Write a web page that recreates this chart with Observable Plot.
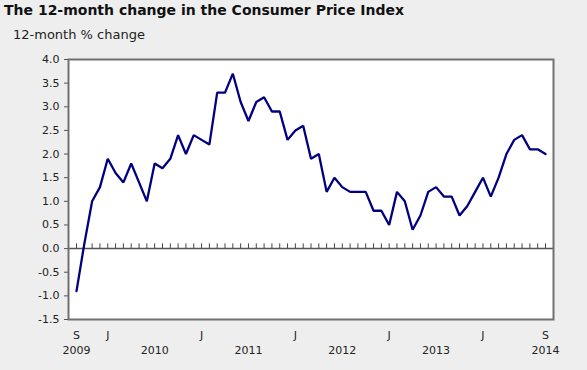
<!DOCTYPE html>
<html>
<head>
<meta charset="utf-8">
<script src="https://cdn.jsdelivr.net/npm/d3@7"></script>
<script src="https://cdn.jsdelivr.net/npm/@observablehq/plot@0.6"></script>
<style>
  html, body { margin: 0; padding: 0; background: #eeeeee; }
  #wrap { position: relative; width: 587px; height: 370px; overflow: hidden; font-family: "DejaVu Sans", Verdana, sans-serif; }
  #title { position: absolute; left: 4px; top: 2px; font-size: 14px; font-weight: bold; color: #111; white-space: nowrap; }
  #subtitle { position: absolute; left: 13px; top: 27px; font-size: 13px; color: #222; white-space: nowrap; }
  #chart { position: absolute; left: 0; top: 44px; }
</style>
</head>
<body>
<div id="wrap">
  <div id="title">The 12-month change in the Consumer Price Index</div>
  <div id="subtitle">12-month % change</div>
  <div id="chart"></div>
</div>
<script>
// Monthly series, September 2009 to September 2014
const firstMonth = "2009-09";
const cpiChange = [
  -0.9, 0.1, 1.0, 1.3,                                   // Sep-Dec 2009
  1.9, 1.6, 1.4, 1.8, 1.4, 1.0, 1.8, 1.7, 1.9, 2.4, 2.0, 2.4, // 2010
  2.3, 2.2, 3.3, 3.3, 3.7, 3.1, 2.7, 3.1, 3.2, 2.9, 2.9, 2.3, // 2011
  2.5, 2.6, 1.9, 2.0, 1.2, 1.5, 1.3, 1.2, 1.2, 1.2, 0.8, 0.8, // 2012
  0.5, 1.2, 1.0, 0.4, 0.7, 1.2, 1.3, 1.1, 1.1, 0.7, 0.9, 1.2, // 2013
  1.5, 1.1, 1.5, 2.0, 2.3, 2.4, 2.1, 2.1, 2.0                 // Jan-Sep 2014
];
const monthTickLabels = [
  {month: "2009-09", label: "S"},
  {month: "2010-01", label: "J"},
  {month: "2011-01", label: "J"},
  {month: "2012-01", label: "J"},
  {month: "2013-01", label: "J"},
  {month: "2014-01", label: "J"},
  {month: "2014-09", label: "S"}
];
const yearLabels = [
  {month: "2009-09", label: "2009"},
  {month: "2010-07", label: "2010"},
  {month: "2011-07", label: "2011"},
  {month: "2012-07", label: "2012"},
  {month: "2013-07", label: "2013"},
  {month: "2014-09", label: "2014"}
];
const yTicks = [-1.5, -1.0, -0.5, 0.0, 0.5, 1.0, 1.5, 2.0, 2.5, 3.0, 3.5, 4.0];

// month index relative to the first month
const [fy, fm] = firstMonth.split("-").map(Number);
const idx = s => { const [y, m] = s.split("-").map(Number); return (y - fy) * 12 + (m - fm); };
const series = cpiChange.map((v, i) => ({i, v}));

const chart = Plot.plot({
  width: 587,
  height: 326,
  marginTop: 15,
  marginBottom: 51,
  marginLeft: 68,
  marginRight: 34,
  style: {background: "transparent", fontFamily: "'DejaVu Sans', Verdana, sans-serif", fontSize: "11px", color: "#222"},
  x: {type: "linear", domain: [0, cpiChange.length - 1], insetLeft: 8, insetRight: 8, axis: null},
  y: {domain: [yTicks[0], yTicks[yTicks.length - 1]], axis: null},
  marks: [
    Plot.frame({fill: "white"}),
    Plot.ruleY([0], {stroke: "#555", strokeWidth: 1.5}),
    Plot.ruleX(series, {x: "i", y1: 0, y2: 0.1, stroke: "#444", strokeWidth: 1}),
    Plot.line(series, {x: "i", y: "v", stroke: "#000080", strokeWidth: 2.3, strokeLinejoin: "miter"}),
    Plot.frame({stroke: "#707070", strokeWidth: 2}),
    Plot.axisY({ticks: yTicks, tickFormat: d => d.toFixed(1), label: null, tickSize: 4, tickPadding: 5, stroke: "#555", fill: "#222", fontSize: 11}),
    Plot.text(monthTickLabels, {x: d => idx(d.month), text: "label", frameAnchor: "bottom", dy: 16, lineAnchor: "middle", fill: "#222", fontSize: 11}),
    Plot.text(yearLabels, {x: d => idx(d.month), text: "label", frameAnchor: "bottom", dy: 30.5, lineAnchor: "middle", fill: "#222", fontSize: 11})
  ]
});
document.getElementById("chart").appendChild(chart);
</script>
</body>
</html>
